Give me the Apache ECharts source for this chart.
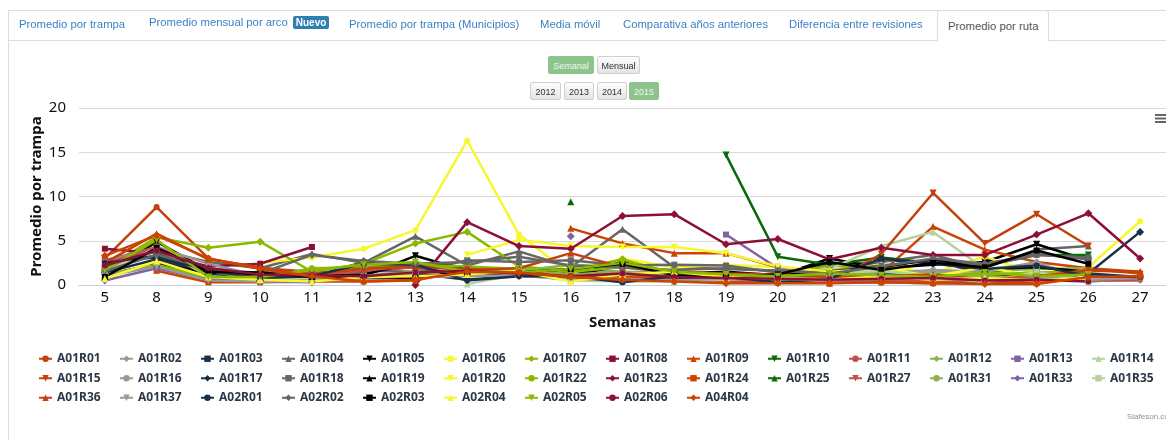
<!DOCTYPE html>
<html>
<head>
<meta charset="utf-8">
<script src="https://cdn.jsdelivr.net/npm/echarts@6/dist/echarts.min.js"></script>
<style>
  html, body { margin: 0; padding: 0; background: #fff; }
  #wrap { position: relative; width: 1166px; height: 440px; overflow: hidden; font-family: "Liberation Sans", Arial, sans-serif; }
  #chart { position: absolute; left: 0; top: 0; width: 1166px; height: 440px; }
  .panel-top { position: absolute; left: 8px; top: 10px; right: 0; height: 1px; background: #ddd; }
  .panel-left { position: absolute; left: 8px; top: 10px; bottom: 0; width: 1px; background: #ddd; }
  .tabs-line { position: absolute; left: 8px; top: 40px; right: 0; height: 1px; background: #ddd; }
  .tab { position: absolute; top: 18px; font-size: 11.3px; color: #3b82c4; white-space: nowrap; }
  .tab.active { top: 10px; height: 30px; line-height: 30px; padding: 0 10px; left: 937px; width: 90px;
    background: #fff; border: 1px solid #ddd; border-bottom-color: #fff; border-radius: 3px 3px 0 0; color: #555; text-align: center; }
  .badge { display: inline-block; margin-left: 5px; padding: 1px 3px; background: #2f7fb1; color: #fff; font-size: 10px; font-weight: bold; border-radius: 2px; }
  .btn { position: absolute; height: 18px; line-height: 18px; font-size: 9px; text-align: center; color: #333;
    background: linear-gradient(#fdfdfd, #e4e4e4); border: 1px solid #cfcfcf; border-radius: 2px; box-sizing: border-box; }
  .btn.on { background: #8cc48c; border-color: #8cc48c; color: #eef7ee; }
</style>
</head>
<body>
<div id="wrap">
  <div id="chart"></div>
  <div class="panel-top"></div>
  <div class="panel-left"></div>
  <div class="tabs-line"></div>
  <span class="tab" style="left:19px">Promedio por trampa</span>
  <span class="tab" style="left:149px;top:16px">Promedio mensual por arco<span class="badge">Nuevo</span></span>
  <span class="tab" style="left:349px">Promedio por trampa (Municipios)</span>
  <span class="tab" style="left:540px">Media móvil</span>
  <span class="tab" style="left:623px">Comparativa años anteriores</span>
  <span class="tab" style="left:789px">Diferencia entre revisiones</span>
  <span class="tab active">Promedio por ruta</span>
  <div class="btn on" style="left:548px;top:56px;width:46px">Semanal</div>
  <div class="btn" style="left:597px;top:56px;width:43px">Mensual</div>
  <div class="btn" style="left:530px;top:82px;width:31px">2012</div>
  <div class="btn" style="left:564px;top:82px;width:30px">2013</div>
  <div class="btn" style="left:597px;top:82px;width:30px">2014</div>
  <div class="btn on" style="left:629px;top:82px;width:30px">2015</div>
</div>
<script>
const _ = null;
const weeks = ['5', '8', '9', '10', '11', '12', '13', '14', '15', '16', '17', '18', '19', '20', '21', '22', '23', '24', '25', '26', '27'];

const A01R01 = [3.0, 8.8, 3.0, 1.9, 1.5, 1.4, 2.1, 1.8, 1.6, 1.2, 1.0, 0.8, 0.6, 0.5, 0.4, 0.5, 0.6, 0.4, 0.5, 0.6, _];
const A01R02 = [1.2, 2.0, 0.6, 0.5, 0.6, 0.8, 1.0, 1.2, 1.0, 0.8, 1.2, 0.9, 1.1, 0.8, 0.7, 1.0, 1.3, 0.9, 1.5, 0.4, 0.8];
const A01R03 = [2.7, 3.1, 1.4, 1.0, 0.9, 2.6, 2.0, 1.1, 1.2, 0.9, 0.4, 1.2, 1.0, 0.4, 0.6, 2.8, 2.6, 1.4, 2.1, 1.3, 0.9];
const A01R04 = [2.6, 4.0, 2.6, 1.9, 3.5, 2.5, 5.5, 2.2, 3.8, 2.0, 6.3, 2.0, 1.8, 1.6, 2.3, 2.6, 3.4, 1.9, 4.0, 4.4, _];
const A01R05 = [1.0, 4.9, 1.6, 1.3, 1.1, 1.0, 3.3, 1.6, 1.7, 1.3, 2.6, 1.1, 1.1, 1.0, 3.0, 1.9, 2.3, 2.6, 4.6, 2.8, _];
const A01R06 = [_, _, _, 2.5, 3.1, 4.1, 6.2, 16.3, 5.7, 1.2, 3.0, 2.0, 2.3, 2.0, 1.7, 2.3, 1.3, 3.2, 1.3, 2.0, 7.2];
const A01R07 = [1.9, 5.4, 4.2, 4.9, 1.5, 2.4, 4.7, 6.0, 2.1, 1.6, 2.9, 1.3, 1.1, 0.9, 2.2, 1.8, 0.9, 1.3, 1.2, 1.5, _];
const A01R08 = [4.1, 3.6, 2.1, 2.4, 4.3, _, _, _, _, _, _, _, _, _, _, _, _, _, _, _, _];
const A01R09 = [_, _, _, _, _, _, _, _, _, 6.4, 4.7, 3.6, 3.6, 2.0, 0.2, 1.4, 6.6, 4.0, 2.6, 1.9, 1.5];
const A01R10 = [_, _, _, _, _, _, _, _, _, _, _, _, 14.7, 3.2, 2.3, 3.1, 2.5, 2.2, 3.4, 3.4, _];
const A01R11 = [2.8, 4.2, 1.8, 1.1, 1.0, 1.6, 2.0, 1.9, 1.4, 1.1, 0.9, 0.8, 0.6, 0.7, 0.5, 0.6, 0.7, 0.5, 0.6, 0.5, 0.6];
const A01R12 = [1.8, 4.3, 1.2, 0.9, 1.8, 2.0, 2.2, 2.0, 1.6, 2.3, 2.0, 1.3, 1.0, 1.3, 1.2, 1.5, 1.4, 1.6, 1.8, 1.9, _];
const A01R13 = [_, _, _, _, _, _, _, _, _, _, _, _, 5.7, 1.9, 1.0, 0.9, 1.2, 0.8, 1.0, 1.4, _];
const A01R14 = [_, _, _, _, _, _, _, 0.1, 1.2, 0.5, 0.8, 0.4, 0.9, 1.1, 1.8, 4.4, 6.0, 1.8, 2.4, 1.0, _];
const A01R15 = [_, _, _, _, _, _, _, _, _, _, _, _, _, _, 0.3, 3.5, 10.4, 4.7, 8.0, 4.4, _];
const A01R16 = [2.6, 4.3, 2.4, 1.0, 1.2, 1.1, 1.4, 1.3, 1.5, 1.8, 1.5, 1.4, 1.3, 0.9, 1.1, 1.3, 1.7, 1.5, 2.6, 0.4, 0.7];
const A01R17 = [1.4, 2.9, 1.2, 0.5, 0.9, 0.9, 1.3, 0.6, 1.1, 0.9, 0.4, 0.7, 0.8, 0.4, 0.7, 1.2, 1.0, 0.9, 1.1, 1.3, 6.0];
const A01R18 = [2.0, 3.8, 1.4, 1.2, 1.3, 1.6, 1.5, 2.8, 2.6, 2.8, 2.2, 2.3, 2.2, 1.4, 1.6, 2.2, 2.8, 2.2, 3.4, 3.1, _];
const A01R19 = [1.1, 2.4, 1.4, 1.2, 1.0, 1.2, 2.5, 2.0, 1.6, 1.1, 2.2, 1.3, 1.5, 1.1, 1.5, 2.0, 2.9, 1.8, 2.0, 1.5, _];
const A01R20 = [_, _, _, _, _, _, _, 3.4, 5.1, 4.4, 4.3, 4.3, 3.6, 2.1, 1.5, 1.9, 1.0, 2.0, 1.0, 1.6, _];
const A01R22 = [1.2, 2.3, 0.8, 0.6, 1.9, 2.0, 2.3, 2.1, 1.8, 1.5, 2.0, 1.6, 1.2, 1.1, 0.8, 0.9, 1.0, 1.2, 1.4, 1.5, _];
const A01R23 = [_, _, _, _, _, _, 0.0, 7.1, 4.4, 4.1, 7.8, 8.0, 4.6, 5.2, 2.9, 4.2, 3.4, 3.4, 5.7, 8.1, 3.0];
const A01R24 = [_, 1.6, 0.3, 0.3, 0.4, 0.4, 0.5, 1.8, 1.6, 1.1, 0.9, 0.6, 0.4, 0.3, 0.3, 0.3, 0.2, 0.3, 0.2, 1.8, 1.3];
const A01R25 = [_, _, _, _, _, _, _, _, _, 9.4, _, _, _, _, _, _, _, _, _, _, _];
const A01R27 = [2.4, 4.3, 1.6, 1.4, 1.2, 1.6, 2.2, 1.7, 1.2, 0.8, 0.6, 0.5, 0.6, 0.4, 0.5, 0.4, 0.5, 0.4, 0.6, 0.5, 0.5];
const A01R31 = [1.6, 4.0, 1.6, 0.7, 0.8, 1.0, 1.5, 1.4, 1.8, 1.2, 1.5, 1.1, 0.9, 0.7, 1.0, 0.8, 0.9, 1.0, 0.7, 1.3, _];
const A01R33 = [0.5, 1.9, 0.6, 0.4, 0.3, _, _, _, _, 5.5, _, _, _, _, _, _, _, _, _, _, _];
const A01R35 = [1.5, 4.2, 1.0, 0.6, 0.8, 1.0, 1.2, _, _, 0.5, 0.4, 0.4, 0.6, 0.9, 1.3, 1.6, 1.0, 0.3, 1.5, 0.3, _];
const A01R36 = [2.5, 5.8, 2.9, 2.0, 1.2, 1.9, 2.1, 1.7, 1.9, 3.6, 2.0, 1.5, 1.3, 1.2, 0.9, 1.0, 1.2, 0.6, 1.0, 1.6, 1.5];
const A01R37 = [1.0, 2.1, 0.5, 0.4, 0.5, 0.6, 0.9, 1.0, 1.1, 0.6, 0.7, 0.5, 0.7, 0.6, 0.5, 0.7, 0.8, 0.6, 0.7, 0.6, 0.8];
const A02R01 = [2.5, 3.3, 1.6, 0.8, 1.0, 2.4, 2.3, 0.5, 1.0, 1.0, 0.3, 1.0, 0.9, 0.3, 0.7, 3.0, 2.4, 1.8, 2.2, 1.0, 0.9];
const A02R02 = [1.6, 3.4, 1.9, 1.3, 3.4, 2.7, 2.4, 2.6, 3.2, 2.2, 2.0, 1.7, 1.9, 1.6, 1.3, 2.1, 3.0, 2.4, 3.5, 2.9, _];
const A02R03 = [0.9, 4.2, 1.5, 1.4, 0.9, 0.9, 0.8, 1.5, 1.4, 1.8, 2.4, 1.1, 0.9, 1.2, 2.6, 1.7, 2.5, 2.0, 3.9, 2.4, _];
const A02R04 = [0.7, 2.7, 0.9, 0.6, 0.4, 0.9, 1.0, 1.2, 1.6, 0.4, 1.2, 1.5, 0.9, 0.7, 0.6, 1.0, 0.6, 0.8, 0.5, 0.8, _];
const A02R05 = [1.7, 5.1, 0.9, 0.9, 1.7, 2.3, 2.6, 1.5, 1.4, 1.8, 2.5, 1.5, 1.2, 1.0, 1.3, 1.1, 0.9, 1.4, 1.0, 1.2, _];
const A02R06 = [2.2, 3.9, 1.9, 1.2, 1.1, 1.0, 1.4, 1.6, 1.3, 1.0, 1.3, 0.9, 0.8, 0.7, 0.6, 0.7, 0.8, 0.5, 0.6, 0.4, _];
const A04R04 = [3.3, 5.6, 3.0, 1.8, 1.0, 0.4, 0.6, 1.5, 1.4, 0.9, 0.6, 0.4, 0.2, 0.2, 0.2, 0.3, 0.2, 0.1, 0.1, 0.9, 1.0];

const routeNames = ['A01R01', 'A01R02', 'A01R03', 'A01R04', 'A01R05', 'A01R06', 'A01R07', 'A01R08', 'A01R09', 'A01R10',
  'A01R11', 'A01R12', 'A01R13', 'A01R14', 'A01R15', 'A01R16', 'A01R17', 'A01R18', 'A01R19', 'A01R20', 'A01R22',
  'A01R23', 'A01R24', 'A01R25', 'A01R27', 'A01R31', 'A01R33', 'A01R35', 'A01R36', 'A01R37', 'A02R01', 'A02R02',
  'A02R03', 'A02R04', 'A02R05', 'A02R06', 'A04R04'];
const routeData = [A01R01, A01R02, A01R03, A01R04, A01R05, A01R06, A01R07, A01R08, A01R09, A01R10,
  A01R11, A01R12, A01R13, A01R14, A01R15, A01R16, A01R17, A01R18, A01R19, A01R20, A01R22,
  A01R23, A01R24, A01R25, A01R27, A01R31, A01R33, A01R35, A01R36, A01R37, A02R01, A02R02,
  A02R03, A02R04, A02R05, A02R06, A04R04];

// paleta de 14 colores que se repite
const palette = ['#c3400f', '#999999', '#1b3048', '#666666', '#000000', '#f7f72f', '#8cb800',
  '#8c0f37', '#cc4400', '#0a6a0a', '#c0504d', '#8fb050', '#8064a2', '#b6d19b'];
// simbolos: circulo, rombo, cuadrado, triangulo, triangulo invertido
const symbols = ['circle', 'diamond', 'rect', 'triangle', 'path://M0,0 L10,0 L5,9 Z'];
const symbolSizes = [6, 8, 6, 7, 7];

const chart = echarts.init(document.getElementById('chart'));

const series = routeNames.map((name, i) => ({
  name: name,
  type: 'line',
  data: routeData[i],
  symbol: symbols[i % 5],
  symbolSize: symbolSizes[i % 5],
  showSymbol: true,
  color: palette[i % 14],
  lineStyle: { width: 2.5 },
  emphasis: { disabled: true }
}));

chart.setOption({
  animation: false,
  textStyle: { fontFamily: 'Noto Sans' },
  grid: { left: 79, right: -3, top: 108, bottom: 155 },
  xAxis: {
    type: 'category',
    data: weeks,
    name: 'Semanas',
    nameLocation: 'middle',
    nameGap: 30,
    nameTextStyle: { fontSize: 15, fontWeight: 'bold', color: '#111' },
    axisLine: { lineStyle: { color: '#c0d0e0', width: 1 } },
    axisTick: { lineStyle: { color: '#c0d0e0' }, length: 5 },
    axisLabel: { fontSize: 15, color: '#111', margin: 5 }
  },
  yAxis: {
    type: 'value',
    min: 0,
    max: 20,
    interval: 5,
    name: 'Promedio por trampa',
    nameLocation: 'middle',
    nameGap: 35,
    nameMoveOverlap: false,
    nameTextStyle: { fontSize: 15, fontWeight: 'bold', color: '#111' },
    axisLine: { show: false },
    axisTick: { show: false },
    axisLabel: { fontSize: 15, color: '#111', margin: 13 },
    splitLine: { lineStyle: { color: '#d9d9d9', width: 1 } }
  },
  legend: {
    left: 38,
    top: 352,
    width: 1160,
    padding: 0,
    itemWidth: 13,
    itemHeight: 8,
    itemGap: 6,
    textStyle: { fontFamily: 'Noto Sans', fontWeight: 'bold', fontSize: 12, color: '#2d3846', width: 56, lineHeight: 13.5 },
    data: routeNames
  },
  graphic: [
    { type: 'rect', left: 1155, top: 114, shape: { width: 12, height: 2 }, style: { fill: '#666' } },
    { type: 'rect', left: 1155, top: 117.5, shape: { width: 12, height: 2 }, style: { fill: '#666' } },
    { type: 'rect', left: 1155, top: 121, shape: { width: 12, height: 2 }, style: { fill: '#666' } },
    { type: 'text', left: 1127, top: 413, style: { text: 'Siafeson.com', font: '8px "Liberation Sans"', fill: '#909090' } }
  ],
  series: series
});
</script>
</body>
</html>
